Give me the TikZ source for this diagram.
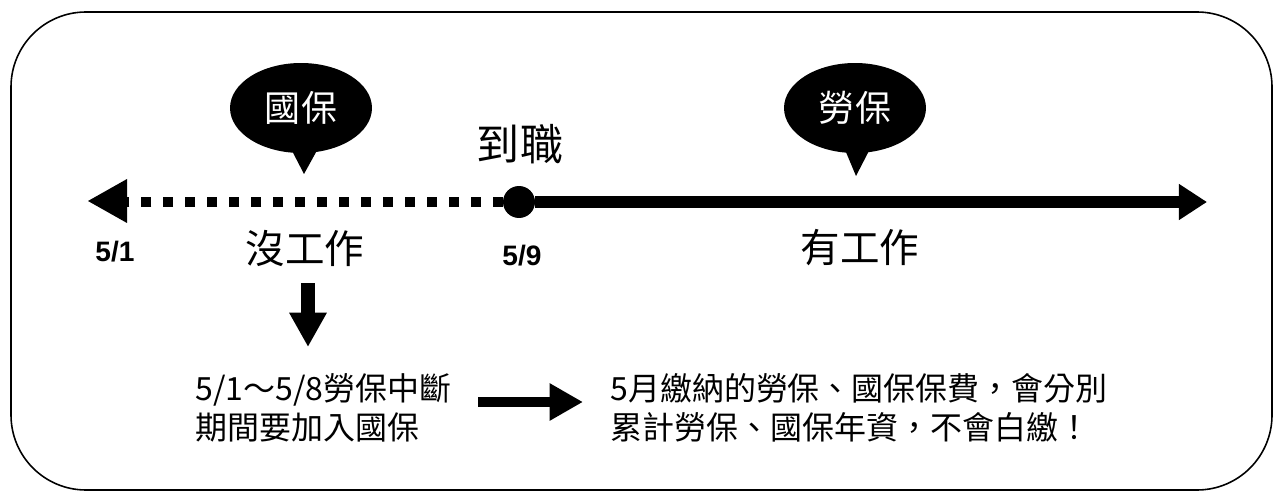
\documentclass[tikz,border=0pt]{standalone}
\usepackage{fontspec}
\setmainfont{Liberation Sans}
\newfontfamily\cjk{Noto Sans CJK TC}
\usetikzlibrary{arrows.meta,shapes.geometric}
\begin{document}
\begin{tikzpicture}[x=0.02cm,y=-0.02cm,
  frame/.style={draw=black,line width=0.9pt,rounded corners=1.5cm},
  bubble/.style={ellipse,fill=black,minimum width=2.84cm,minimum height=1.8cm,inner sep=0pt,text=white,font=\cjk\fontsize{20.5}{24}\selectfont},
  datelbl/.style={font=\bfseries\fontsize{16}{19}\selectfont},
  cjklbl/.style={font=\cjk\fontsize{22.5}{27}\selectfont},
  bodytext/.style={font=\cjk\fontsize{18.2}{22.2}\selectfont,align=left,anchor=west,inner sep=0pt},
  fatarrow/.style={line width=6pt,-{Triangle[length=19pt,width=20pt]}},
]
\useasboundingbox (0,0) rectangle (1274,493);
\draw[frame] (11,12) rectangle (1272,490);
% timeline
\node[circle,fill=black,minimum size=0.64cm,inner sep=0pt] (dot) at (519,202) {};
\coordinate (lstart) at (88,201);
\coordinate (rend) at (1207,202);
\draw[line width=5.7pt,dash pattern=on 5.7pt off 6.8pt] (dot.west) -- (127,202);
\draw[draw=none,fill=black] (lstart) -- (127,179) -- (127,223) -- cycle;
\draw[line width=6.8pt,-{Triangle[length=16pt,width=19.5pt]}] (dot) -- (rend);
% bubbles
\node[bubble] (gb) at (301,108) {國保};
\fill (289,145) -- (304,174) -- (320,145) -- cycle;
\node[bubble] (lb) at (855,108) {勞保};
\fill (843,145) -- (856,176) -- (872,145) -- cycle;
% labels
\node[font=\cjk\fontsize{24.5}{29}\selectfont] (dz) at (520,144) {到職};
\node[datelbl] (d51) at (115,252) {5/1};
\node[datelbl] (d59) at (522,256) {5/9};
\node[cjklbl] (nowork) at (305,248) {沒工作};
\node[cjklbl] (work) at (860,248) {有工作};
% texts
\node[bodytext] (lt) at (195,408) {5/1～5/8勞保中斷\\期間要加入國保};
\node[bodytext] (rt) at (610,408) {5月繳納的勞保、國保保費，會分別\\累計勞保、國保年資，不會白繳！};
% arrows
\coordinate (da1) at (308,283);
\coordinate (da2) at (308,347);
\draw[line width=8pt,-{Triangle[length=19.5pt,width=20pt]}] (da1) -- (da2);
\coordinate (ra1) at (478,402);
\coordinate (ra2) at (583,402);
\draw[fatarrow] (ra1) -- (ra2);
\end{tikzpicture}
\end{document}
